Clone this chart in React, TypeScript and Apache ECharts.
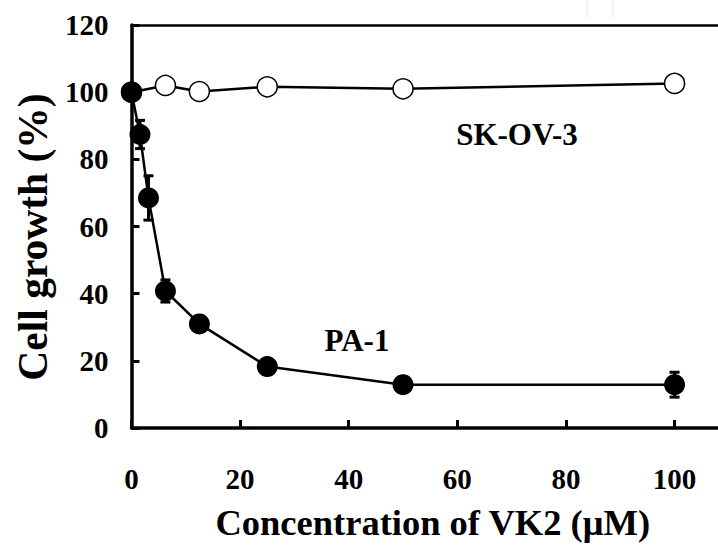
import React, { useEffect, useRef } from "react";
import * as echarts from "echarts";

const xTicks = [0, 20, 40, 60, 80, 100];
const yTicks = [0, 20, 40, 60, 80, 100, 120];
const conc = [0, 1.5625, 3.125, 6.25, 12.5, 25, 50, 100];
const pa1 = [100, 87.4, 68.5, 40.8, 31.0, 18.3, 12.9, 12.9];
const pa1Err = [0, 4.2, 6.6, 3.3, 0, 0, 0, 3.7];
const skConc = [0, 6.25, 12.5, 25, 50, 100];
const sk = [100, 102.0, 100.2, 101.6, 101.0, 102.6];
const seriesNames = ["SK-OV-3", "PA-1"];
const xTitle = "Concentration of VK2 (μM)";
const yTitle = "Cell growth (%)";

const FONT = "'Liberation Serif', 'Times New Roman', serif";

export default function App() {
  const ref = useRef<HTMLDivElement>(null);
  useEffect(() => {
    document.body.style.margin = "0";
    const chart = echarts.init(ref.current!, null, { renderer: "svg" });
    const errData = conc
      .map((c, i) => [c, pa1[i] - pa1Err[i], pa1[i] + pa1Err[i]])
      .filter((d, i) => pa1Err[i] > 0);
    chart.setOption({
      animation: false,
      backgroundColor: "#ffffff",
      grid: { left: 131.5, top: 25, right: 0, bottom: 114 },
      xAxis: [
        {
          type: "value",
          min: 0,
          max: 108,
          interval: 20,
          name: xTitle,
          nameLocation: "middle",
          nameGap: 76,
          nameTextStyle: {
            fontFamily: FONT,
            fontWeight: "bold",
            fontSize: 36.5,
            color: "#000",
            padding: [0, 0, 0, 16],
          },
          axisLine: { show: true, onZero: false, lineStyle: { color: "#000", width: 3.5 } },
          axisTick: { show: true, inside: true, length: 8, lineStyle: { color: "#000", width: 3 } },
          axisLabel: {
            margin: 36,
            fontFamily: FONT,
            fontWeight: "bold",
            fontSize: 29,
            color: "#000",
            showMaxLabel: false,
            formatter: (v: number) => (xTicks.includes(v) ? String(v) : ""),
          },
          splitLine: { show: false },
        },
        {
          type: "value",
          position: "top",
          min: 0,
          max: 108,
          axisLine: { show: true, onZero: false, lineStyle: { color: "#000", width: 2.5 } },
          axisTick: { show: false },
          axisLabel: { show: false },
          splitLine: { show: false },
        },
      ],
      yAxis: {
        type: "value",
        min: 0,
        max: 120,
        interval: 20,
        axisLine: { show: true, onZero: false, lineStyle: { color: "#000", width: 3.5 } },
        axisTick: { show: true, inside: true, length: 8, lineStyle: { color: "#000", width: 3 } },
        axisLabel: {
          margin: 23,
          padding: [10, 0, 0, 0],
          fontFamily: FONT,
          fontWeight: "bold",
          fontSize: 29,
          color: "#000",
          formatter: (v: number) => (yTicks.includes(v) ? String(v) : ""),
        },
        splitLine: { show: false },
      },
      graphic: [
        {
          type: "text",
          x: 33,
          y: 237,
          rotation: Math.PI / 2,
          style: {
            text: yTitle,
            fontFamily: FONT,
            fontWeight: "bold",
            fontSize: 41.5,
            fill: "#000",
            align: "center",
            verticalAlign: "middle",
          },
        },
        {
          type: "text",
          x: 517,
          y: 134,
          style: {
            text: seriesNames[0],
            fontFamily: FONT,
            fontWeight: "bold",
            fontSize: 31,
            fill: "#000",
            align: "center",
            verticalAlign: "middle",
          },
        },
        {
          type: "text",
          x: 357,
          y: 340,
          style: {
            text: seriesNames[1],
            fontFamily: FONT,
            fontWeight: "bold",
            fontSize: 31,
            fill: "#000",
            align: "center",
            verticalAlign: "middle",
          },
        },
        { type: "line", shape: { x1: 587, y1: 0, x2: 587, y2: 18 }, style: { stroke: "#ebebeb", lineWidth: 1 } },
        { type: "line", shape: { x1: 613, y1: 0, x2: 613, y2: 18 }, style: { stroke: "#ebebeb", lineWidth: 1 } },
      ],
      series: [
        {
          name: seriesNames[0],
          type: "line",
          data: skConc.map((c, i) => [c, sk[i]]),
          symbol: "circle",
          symbolSize: 20,
          lineStyle: { color: "#000", width: 2.5 },
          itemStyle: { color: "#fff", borderColor: "#000", borderWidth: 1.5 },
          z: 2,
        },
        {
          name: "err",
          type: "custom",
          data: errData,
          renderItem: (params: any, api: any) => {
            const x = api.value(0);
            const lo = api.coord([x, api.value(1)]);
            const hi = api.coord([x, api.value(2)]);
            const w = 5;
            const st = { stroke: "#000", lineWidth: 3 };
            return {
              type: "group",
              children: [
                { type: "line", shape: { x1: lo[0], y1: lo[1], x2: hi[0], y2: hi[1] }, style: st },
                { type: "line", shape: { x1: lo[0] - w, y1: lo[1], x2: lo[0] + w, y2: lo[1] }, style: st },
                { type: "line", shape: { x1: hi[0] - w, y1: hi[1], x2: hi[0] + w, y2: hi[1] }, style: st },
              ],
            };
          },
          z: 3,
        },
        {
          name: seriesNames[1],
          type: "line",
          data: conc.map((c, i) => [c, pa1[i]]),
          symbol: "circle",
          symbolSize: 21,
          lineStyle: { color: "#000", width: 2.5 },
          itemStyle: { color: "#000", borderColor: "#000", borderWidth: 0 },
          z: 4,
        },
      ],
    });
    return () => chart.dispose();
  }, []);
  return <div ref={ref} style={{ width: 718, height: 546 }} />;
}
